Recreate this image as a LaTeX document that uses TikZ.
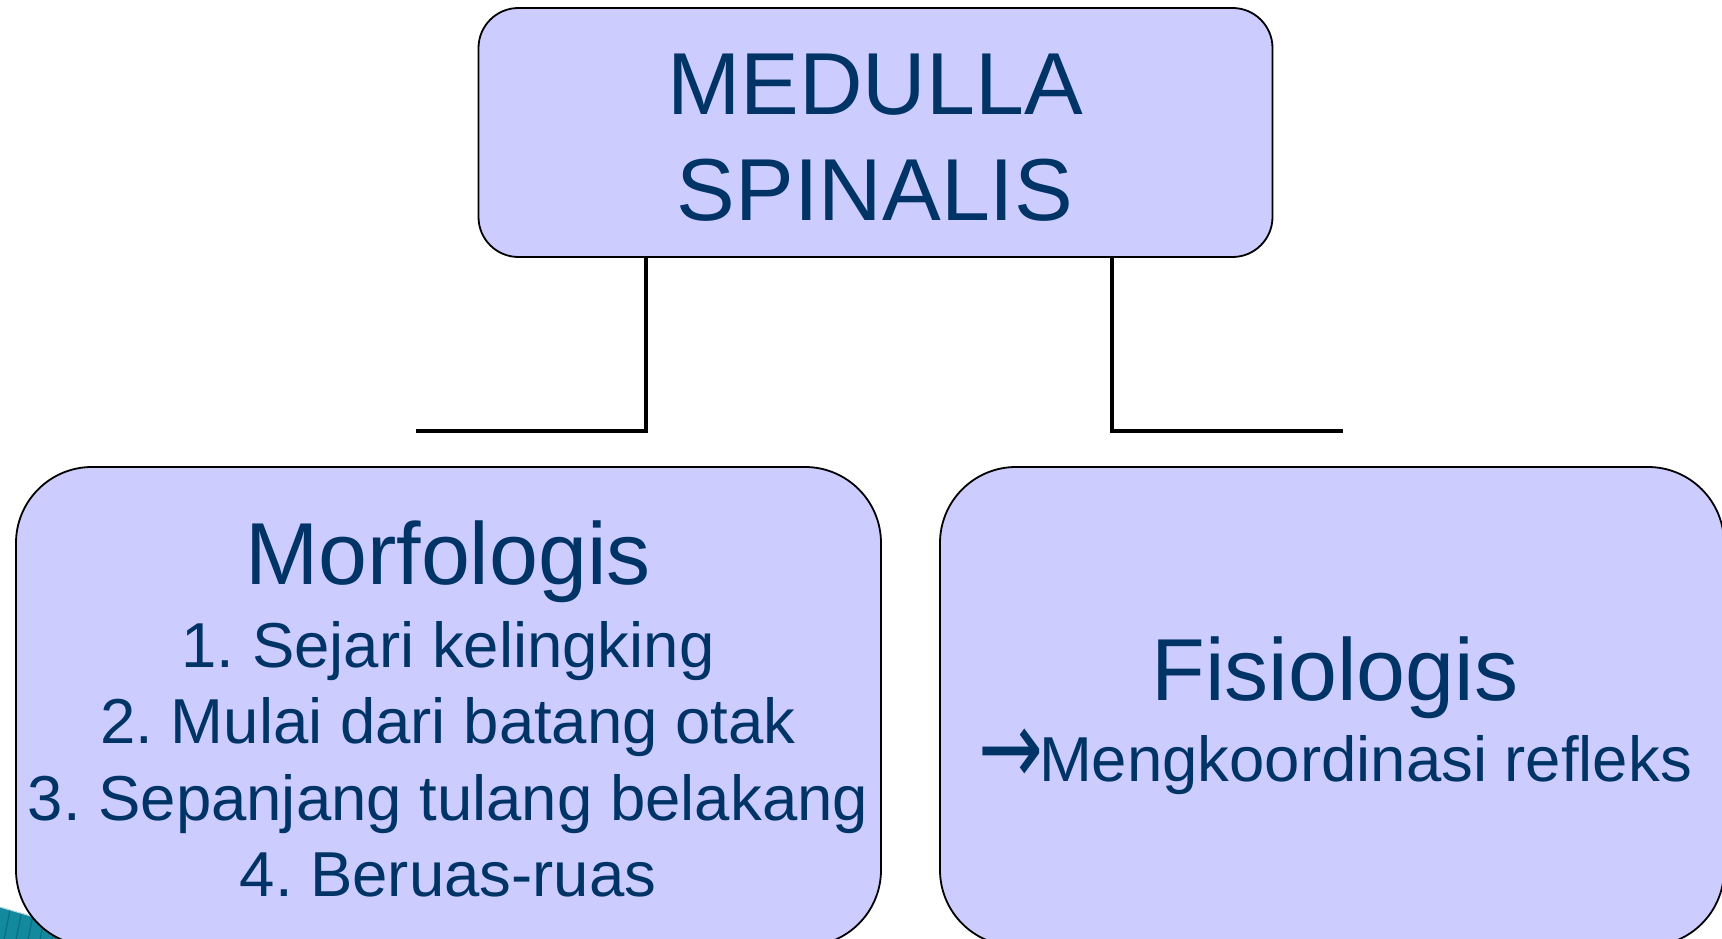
\documentclass[tikz,border=0pt]{standalone}
\usepackage{fontspec}
\setmainfont{Liberation Sans}
\newfontfamily\arrowfont{DejaVu Sans}
\frenchspacing
\begin{document}
\definecolor{boxfill}{HTML}{CCCCFF}
\definecolor{ink}{HTML}{003366}
\definecolor{teal}{HTML}{13899E}
\definecolor{tealdark}{HTML}{0B6F82}
\begin{tikzpicture}[x=1pt,y=-1pt,
  box/.style={draw=black,line width=1.8pt,fill=boxfill,rounded corners=#1,
    rectangle,inner sep=0pt},
  big/.style={text=ink,anchor=base,inner sep=0pt,font=\fontsize{88}{100}\selectfont},
  item/.style={text=ink,anchor=base,inner sep=0pt,font=\fontsize{63.5}{76}\selectfont},
  link/.style={draw=black,line width=4.5pt,line join=miter}]
\useasboundingbox (0,0) rectangle (1722,939);
\clip (0,0) rectangle (1722,939);

% decorative corner band behind the left box
\begin{scope}
  \clip (0,907) -- (140,948) -- (0,948) -- cycle;
  \fill[teal] (0,900) rectangle (150,950);
  \foreach \i in {0,12,...,150}
    \draw[tealdark,line width=1.2pt] (\i,900) -- (\i-10,950);
\end{scope}
\draw[white!70!teal,line width=1pt] (0,907) -- (140,948);

% boxes
\node[box=40pt,minimum width=794pt,minimum height=249pt] (top) at (875.5,132.5) {};
\node[box=76pt,minimum width=865pt,minimum height=479pt] (morf) at (448.5,706.5) {};
\node[box=76pt,minimum width=784pt,minimum height=479pt] (fis) at (1332,706.5) {};

% top title
\node[big] (t1) at (875,115) {MEDULLA};
\node[big] (t2) at (875,220) {SPINALIS};

% left box
\node[big] (m0) at (448,584) {Morfologis};
\node[item] (m1) at (448,667) {1. Sejari kelingking};
\node[item] (m2) at (448,743) {2. Mulai dari batang otak};
\node[item] (m3) at (448,820) {3. Sepanjang tulang belakang};
\node[item] (m4) at (448,896) {4. Beruas-ruas};

% right box
\node[big] (f0) at (1335,700) {Fisiologis};
\node[item] (f1) at (1335,781) {\raisebox{-3pt}{\scalebox{1.25}[1.7]{\arrowfont\fontsize{62}{70}\selectfont →}}\kern-4pt Mengkoordinasi refleks};

% connectors
\coordinate (lc) at (646,431);
\coordinate (le) at (416,431);
\coordinate (rc) at (1112,431);
\coordinate (re) at (1343,431);
\draw[link] (top.south -| lc) -- (lc) -- (le);
\draw[link] (top.south -| rc) -- (rc) -- (re);
\end{tikzpicture}
\end{document}
